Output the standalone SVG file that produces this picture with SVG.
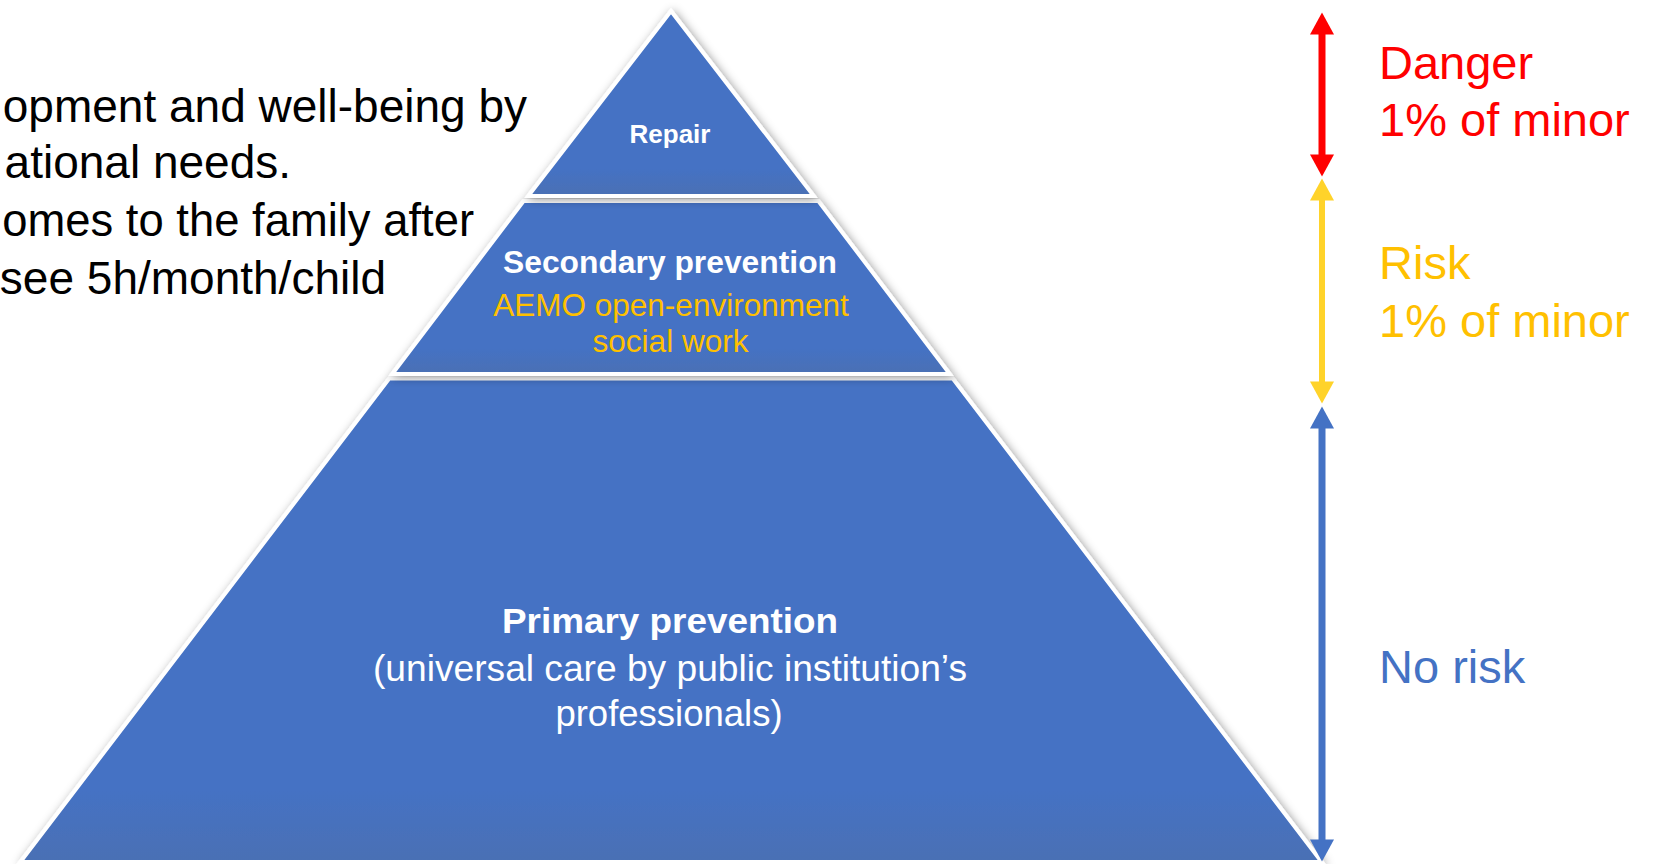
<svg xmlns="http://www.w3.org/2000/svg" width="1662" height="864" viewBox="0 0 1662 864">
  <style>
    .tier { fill: url(#tierFill); stroke: #FFFFFF; stroke-width: 4; stroke-linejoin: miter; filter: url(#shadow); }
    .t { font-family: "Liberation Sans", Arial, sans-serif; }
    .b { font-weight: bold; }
    .w { fill: #FFFFFF; }
    .y { fill: #FFC000; }
    .c { text-anchor: middle; }
    .intro { font-size: 46px; fill: #000000; text-anchor: end; }
    .lbl { font-size: 47px; }
  </style>
  <defs>
    <filter id="shadow" x="-10%" y="-10%" width="120%" height="120%">
      <feDropShadow dx="2" dy="2" stdDeviation="5" flood-color="#000000" flood-opacity="0.4"/>
    </filter>
    <linearGradient id="tierFill" x1="0" y1="0" x2="0" y2="1">
      <stop offset="0" stop-color="#4472C4"/>
      <stop offset="0.85" stop-color="#4472C4"/>
      <stop offset="1" stop-color="#4A70B4"/>
    </linearGradient>
    <marker id="hRed" markerUnits="userSpaceOnUse" markerWidth="23" markerHeight="24" viewBox="0 0 22 24" refX="0.5" refY="12" orient="auto-start-reverse">
      <path d="M0,0 L22,12 L0,24 z" fill="#FF0000"/>
    </marker>
    <marker id="hYellow" markerUnits="userSpaceOnUse" markerWidth="23" markerHeight="24" viewBox="0 0 22 24" refX="0.5" refY="12" orient="auto-start-reverse">
      <path d="M0,0 L22,12 L0,24 z" fill="#FFD32A"/>
    </marker>
    <marker id="hBlue" markerUnits="userSpaceOnUse" markerWidth="23" markerHeight="24" viewBox="0 0 22 24" refX="0.5" refY="12" orient="auto-start-reverse">
      <path d="M0,0 L22,12 L0,24 z" fill="#4472C4"/>
    </marker>
  </defs>

  <rect x="0" y="0" width="1662" height="864" fill="#FFFFFF"/>

  <g id="intro-text" class="t intro">
    <text x="527" y="122">opment and well-being by</text>
    <text x="291" y="178">ational needs.</text>
    <text x="474" y="236" font-size="45.4">omes to the family after</text>
    <text x="386" y="294">see 5h/month/child</text>
  </g>

  <g id="tier-primary">
    <polygon class="tier" points="389.2,378.5 952.8,378.5 1321.7,862 20.3,862"/>
    <text class="t b w c" x="670" y="633" font-size="35" textLength="336" lengthAdjust="spacingAndGlyphs">Primary prevention</text>
    <text class="t w c" x="670" y="681" font-size="36" textLength="594" lengthAdjust="spacingAndGlyphs">(universal care by public institution’s</text>
    <text class="t w c" x="669" y="726" font-size="36.5">professionals)</text>
  </g>

  <g id="tier-secondary">
    <polygon class="tier" points="523.6,201 818.4,201 949.8,374 392.2,374"/>
    <text class="t b w c" x="670" y="273" font-size="31" textLength="334" lengthAdjust="spacingAndGlyphs">Secondary prevention</text>
    <text class="t y c" x="671" y="316" font-size="31.5">AEMO open-environment</text>
    <text class="t y c" x="670.5" y="352" font-size="31.5">social work</text>
  </g>

  <g id="tier-repair">
    <polygon class="tier" points="671,11 813.8,196 528.2,196"/>
    <text class="t b w c" x="670" y="143" font-size="26">Repair</text>
  </g>

  <g id="connectors">
    <line x1="1322" y1="34" x2="1322" y2="155" stroke="#FF0000" stroke-width="7" marker-start="url(#hRed)" marker-end="url(#hRed)"/>
    <line x1="1322" y1="200" x2="1322" y2="382" stroke="#FFD32A" stroke-width="6" marker-start="url(#hYellow)" marker-end="url(#hYellow)"/>
    <line x1="1322" y1="428" x2="1322" y2="840" stroke="#4472C4" stroke-width="7" marker-start="url(#hBlue)" marker-end="url(#hBlue)"/>
  </g>

  <g id="label-danger" class="t lbl" fill="#FF0000">
    <text x="1379" y="79">Danger</text>
    <text x="1379" y="136">1% of minor</text>
  </g>

  <g id="label-risk" class="t lbl" fill="#FFC000">
    <text x="1379" y="279">Risk</text>
    <text x="1379" y="337">1% of minor</text>
  </g>

  <g id="label-norisk" class="t lbl" fill="#4472C4">
    <text x="1379" y="683">No risk</text>
  </g>
</svg>
